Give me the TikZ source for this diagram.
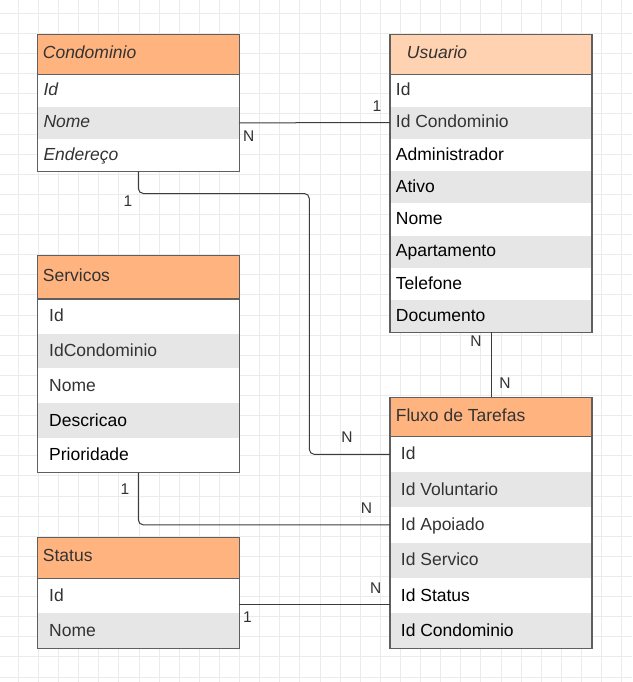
\documentclass[tikz,border=0pt]{standalone}
\usepackage{fontspec}
\setmainfont{Liberation Sans}
\definecolor{hdrc}{HTML}{FFB480}
\definecolor{hdrlight}{HTML}{FFD2B1}
\definecolor{rowgray}{HTML}{E6E6E6}
\definecolor{framec}{HTML}{5F5F5F}
\definecolor{linec}{HTML}{3C3C3C}
\definecolor{tdark}{HTML}{333333}
\definecolor{gridc}{HTML}{EBEBEB}
\begin{document}
\begin{tikzpicture}[x=1pt,y=-1pt,
  boxn/.style={inner sep=0pt, outer sep=0pt, minimum width=202pt, anchor=north west, draw=none},
  txt/.style={inner sep=0pt, anchor=base west, font=\fontsize{17.5}{20}\selectfont},
  frame/.style={draw=framec, line width=1.1pt},
  conn/.style={draw=linec, line width=1pt, rounded corners=5pt},
  lab/.style={inner sep=0pt, text=tdark, font=\fontsize{15.5}{17}\selectfont}]
\useasboundingbox (0,0) rectangle (632,682);
\fill[white] (0,0) rectangle (632,682);
% background grid
\foreach \i in {0,...,31} \draw[gridc, line width=0.8pt] ({18.3+20.11*\i},0) -- ({18.3+20.11*\i},682);
\foreach \j in {0,...,33} \draw[gridc, line width=0.8pt] (0,{13.3+20.11*\j}) -- (632,{13.3+20.11*\j});

% ---------- Condominio
\node[boxn, fill=hdrc, minimum height=39.6pt] (condh) at (37.3,34.7) {};
\node[txt, text=tdark, font=\fontsize{17.5}{20}\selectfont\itshape] (condht) at (42.7,58.5) {Condominio};
\foreach \t/\f [count=\i] in {Id/white,Nome/rowgray,Endereço/white} {
  \node[boxn, fill=\f, minimum height=32.33pt] (condr\i) at (37.3,{74.3+32.33*(\i-1)}) {};
  \node[txt, text=tdark, font=\fontsize{17.5}{20}\selectfont\itshape] (condt\i) at (43.3,{74.3+32.33*(\i-0.5)+5.2}) {\t};
}
\draw[frame] (condh.north west) rectangle (condr3.south east);
\draw[frame] (condh.south west) -- (condh.south east);

% ---------- Usuario
\node[boxn, fill=hdrlight, minimum height=39.6pt] (usrh) at (390,34.7) {};
\node[txt, text=tdark, font=\fontsize{17.5}{20}\selectfont\itshape] (usrht) at (406.7,58.5) {Usuario};
\foreach \t/\f/\c [count=\i] in {Id/white/tdark,Id Condominio/rowgray/tdark,Administrador/white/black,Ativo/rowgray/black,Nome/white/black,Apartamento/rowgray/black,Telefone/white/black,Documento/rowgray/black} {
  \node[boxn, fill=\f, minimum height=32.25pt] (usrr\i) at (390,{74.3+32.25*(\i-1)}) {};
  \node[txt, text=\c] (usrt\i) at (395.7,{74.3+32.25*(\i-0.5)+5.2}) {\t};
}
\draw[frame] (usrh.north west) rectangle (usrr8.south east);
\draw[frame] (usrh.south west) -- (usrh.south east);

% ---------- Servicos
\node[boxn, fill=hdrc, minimum height=43.3pt] (srvh) at (37.3,255.7) {};
\node[txt, text=tdark] (srvht) at (42.7,281) {Servicos};
\foreach \t/\f/\c [count=\i] in {Id/white/tdark,IdCondominio/rowgray/tdark,Nome/white/tdark,Descricao/rowgray/black,Prioridade/white/black} {
  \node[boxn, fill=\f, minimum height=34.74pt] (srvr\i) at (37.3,{299+34.74*(\i-1)}) {};
  \node[txt, text=\c] (srvt\i) at (49,{299+34.74*(\i-0.5)+5.6}) {\t};
}
\draw[frame] (srvh.north west) rectangle (srvr5.south east);
\draw[frame] (srvh.south west) -- (srvh.south east);

% ---------- Fluxo de Tarefas
\node[boxn, fill=hdrc, minimum height=39.4pt] (flxh) at (390,397.3) {};
\node[txt, text=tdark] (flxht) at (395.7,421) {Fluxo de Tarefas};
\foreach \t/\f/\c [count=\i] in {Id/white/tdark,Id Voluntario/rowgray/tdark,Id Apoiado/white/tdark,Id Servico/rowgray/tdark,Id Status/white/black,Id Condominio/rowgray/black} {
  \node[boxn, fill=\f, minimum height=35.27pt] (flxr\i) at (390,{436.7+35.27*(\i-1)}) {};
  \node[txt, text=\c] (flxt\i) at (400.7,{436.7+35.27*(\i-0.5)+5.6}) {\t};
}
\draw[frame] (flxh.north west) rectangle (flxr6.south east);
\draw[frame] (flxh.south west) -- (flxh.south east);

% ---------- Status
\node[boxn, fill=hdrc, minimum height=41pt] (stsh) at (37.3,537.3) {};
\node[txt, text=tdark] (stsht) at (42.7,561.8) {Status};
\foreach \t/\f [count=\i] in {Id/white,Nome/rowgray} {
  \node[boxn, fill=\f, minimum height=35pt] (stsr\i) at (37.3,{578.3+35*(\i-1)}) {};
  \node[txt, text=tdark] (stst\i) at (49,{578.3+35*(\i-0.5)+5.6}) {\t};
}
\draw[frame] (stsh.north west) rectangle (stsr2.south east);
\draw[frame] (stsh.south west) -- (stsh.south east);

% ---------- connectors
\coordinate (bendA) at (309.3,193.5);
\draw[conn] (condr2.east) -- (usrr2.west);
\draw[conn] (condr3.south) |- (bendA) |- (flxr1.west);
\draw[conn] (usrr8.south) -- (flxh.north);
\draw[conn] (srvr5.south) |- (flxr3.west);
\draw[conn] ([yshift=-8.5pt]stsr1.east) coordinate (stsA) -- (stsA -| flxr5.west);

% ---------- cardinality labels
\node[lab] (l1) at (377,106.3) {1};
\node[lab] (l2) at (248.7,135.7) {N};
\node[lab] (l3) at (128,201) {1};
\node[lab] (l4) at (347,437) {N};
\node[lab] (l5) at (476,340.8) {N};
\node[lab] (l6) at (505,383.3) {N};
\node[lab] (l7) at (125,489.5) {1};
\node[lab] (l8) at (366.5,508.5) {N};
\node[lab] (l9) at (375.8,588.3) {N};
\node[lab] (l10) at (247.5,617) {1};
\end{tikzpicture}
\end{document}
